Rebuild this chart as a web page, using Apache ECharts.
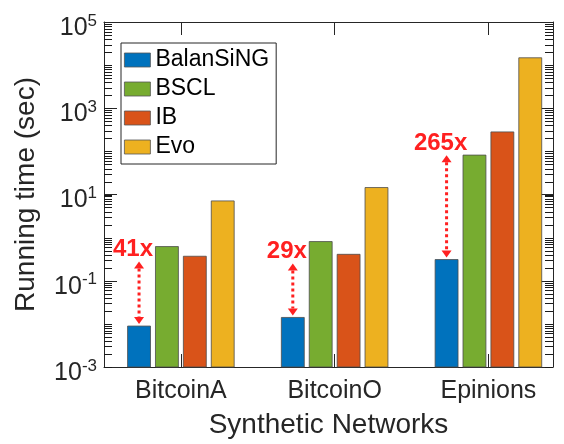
<!DOCTYPE html>
<html><head><meta charset="utf-8">
<script src="https://cdn.jsdelivr.net/npm/echarts@6/dist/echarts.min.js"></script>
<style>html,body{margin:0;padding:0;background:#fff}#c{width:564px;height:444px}</style>
</head><body><div id="c"></div>
<script>
// ---- data ----
const categories = ['BitcoinA', 'BitcoinO', 'Epinions'];
const seriesNames = ['BalanSiNG', 'BSCL', 'IB', 'Evo'];
const balansing = [0.0089, 0.0141, 0.31];
const bscl = [0.62, 0.81, 82];
const ib = [0.37, 0.41, 283];
const evo = [7.1, 14.5, 14800];
const speedupLabels = ['41x', '29x', '265x'];
const speedupArrowTop = [0.28, 0.25, 81];
const minorMultipliers = [1, 2, 3, 4, 5, 6, 7, 8, 9];
const minorDecades = [-3, -2, -1, 0, 1, 2, 3, 4];

// ---- styling ----
const FONT = '"Liberation Sans", Arial, Helvetica, sans-serif';
const AX = '#262626';
const RED = '#ff2020';
const colors = ['#0072BD', '#77AC30', '#D95319', '#EDB120'];
const XMIN = 0.5, XMAX = 3.42, YMIN = 0.001, YMAX = 100000;
const BAR_FRAC = 0.149, PITCH_FRAC = 0.1814;

const allSeries = [balansing, bscl, ib, evo];

function unitPx(api) { return api.coord([2, 1])[0] - api.coord([1, 1])[0]; }

function barRender(idx) {
  return function (params, api) {
    const cat = api.value(0), v = api.value(1);
    const u = unitPx(api);
    const w = u * BAR_FRAC;
    const p = api.coord([cat, v]);
    const cx = p[0] + (idx - 1.5) * u * PITCH_FRAC;
    const base = api.coord([cat, YMIN])[1];
    return {
      type: 'rect',
      shape: { x: cx - w / 2, y: p[1], width: w, height: base - p[1] },
      style: { fill: colors[idx], stroke: '#4d4d4d', lineWidth: 0.8 }
    };
  };
}

const series = allSeries.map((vals, idx) => ({
  name: seriesNames[idx],
  type: 'custom',
  renderItem: barRender(idx),
  itemStyle: { color: colors[idx] },
  encode: { x: 0, y: 1 },
  data: vals.map((v, i) => [i + 1, v]),
  z: 3
}));

series.push({
  name: 'speedup',
  type: 'custom',
  silent: true,
  z: 5,
  encode: { x: 0, y: [1, 2] },
  data: categories.map((c, i) => [i + 1, balansing[i], speedupArrowTop[i]]),
  renderItem: function (params, api) {
    const i = params.dataIndex;
    const cat = api.value(0);
    const u = unitPx(api);
    const x = api.coord([cat, 1])[0] - 1.5 * u * PITCH_FRAC;
    const yLow = api.coord([cat, api.value(1)])[1] - 2;
    const yHigh = api.coord([cat, api.value(2)])[1];
    const ah = 7, aw = 5;
    return {
      type: 'group', children: [
        { type: 'line', shape: { x1: x, y1: yHigh + ah, x2: x, y2: yLow - ah }, style: { stroke: RED, lineWidth: 3, lineDash: [3, 3] } },
        { type: 'polygon', shape: { points: [[x, yHigh], [x - aw, yHigh + ah], [x + aw, yHigh + ah]] }, style: { fill: RED } },
        { type: 'polygon', shape: { points: [[x, yLow], [x - aw, yLow - ah], [x + aw, yLow - ah]] }, style: { fill: RED } },
        { type: 'text', x: x - 6, y: yHigh - 12, style: { text: speedupLabels[i], fill: RED, fontSize: 24, fontWeight: 'bold', fontFamily: FONT, align: 'center', verticalAlign: 'middle' } }
      ]
    };
  }
});

function yAxisCfg(pos) {
  return {
    type: 'log', logBase: 10, min: YMIN, max: YMAX, interval: 2, position: pos,
    axisLine: { show: true, lineStyle: { color: AX, width: 1 } },
    axisTick: { show: true, inside: true, length: 13, lineStyle: { color: AX, width: 1 } },
    splitLine: { show: false }
  };
}
const yLeft = Object.assign(yAxisCfg('left'), {
  name: 'Running time (sec)', nameLocation: 'middle', nameGap: 64,
  nameTextStyle: { fontSize: 28, color: AX, fontFamily: FONT },
  axisLabel: {
    show: true, margin: 7,
    formatter: v => '{b|10}{s|' + Math.round(Math.log10(v)) + '}',
    rich: {
      b: { fontSize: 25, color: AX, fontFamily: FONT, padding: [12, 0, 0, 0] },
      s: { fontSize: 17, color: AX, fontFamily: FONT, verticalAlign: 'top', padding: [9, 0, 0, 0] }
    }
  }
});
const yRight = Object.assign(yAxisCfg('right'), { axisLabel: { show: false } });

function xAxisCfg(pos, labels) {
  return {
    type: 'value', min: XMIN, max: XMAX, position: pos,
    axisLine: { show: true, lineStyle: { color: AX, width: 1 } },
    axisTick: { show: true, inside: true, length: 13, customValues: [1, 2, 3], lineStyle: { color: AX, width: 1 } },
    splitLine: { show: false },
    axisLabel: labels ? {
      show: true, customValues: [1, 2, 3], margin: 12, fontSize: 25, color: AX, fontFamily: FONT,
      formatter: v => categories[Math.round(v) - 1] || ''
    } : { show: false, customValues: [1, 2, 3] }
  };
}
const xBottom = Object.assign(xAxisCfg('bottom', true), {
  name: 'Synthetic Networks', nameLocation: 'middle', nameGap: 44,
  nameTextStyle: { fontSize: 28, color: AX, fontFamily: FONT }
});
const xTop = xAxisCfg('top', false);

const chart = echarts.init(document.getElementById('c'), null, { renderer: 'canvas' });
chart.setOption({
  animation: false,
  backgroundColor: '#fff',
  grid: { left: 104, right: 11, top: 22, bottom: 75, containLabel: false },
  xAxis: [xBottom, xTop],
  yAxis: [yLeft, yRight],
  legend: {
    orient: 'vertical', left: 121, top: 43, data: seriesNames, icon: 'rect',
    itemWidth: 26, itemHeight: 14, itemGap: 6, padding: [5.5, 7, 5.5, 3],
    borderColor: AX, borderWidth: 1, backgroundColor: '#fff', selectedMode: false,
    textStyle: { fontSize: 23, color: '#000', fontFamily: FONT, lineHeight: 23 },
    itemStyle: { borderColor: '#555', borderWidth: 0.8 }
  },
  series: series
});

// log-scale minor ticks (1..9 x 10^k) on both vertical edges, placed through the axis scales
const tickEls = [];
const xl = chart.convertToPixel({ xAxisIndex: 0 }, XMIN);
const xr = chart.convertToPixel({ xAxisIndex: 0 }, XMAX);
minorDecades.forEach(d => minorMultipliers.forEach(m => {
  const v = m * Math.pow(10, d);
  const y = Math.round(chart.convertToPixel({ yAxisIndex: 0 }, v));
  tickEls.push({ type: 'rect', silent: true, z: 50, shape: { x: xl, y: y, width: 8, height: 1 }, style: { fill: '#1a1a1a' } });
  tickEls.push({ type: 'rect', silent: true, z: 50, shape: { x: xr - 8, y: y, width: 8, height: 1 }, style: { fill: '#1a1a1a' } });
}));
chart.setOption({ graphic: tickEls });
</script>
</body></html>
